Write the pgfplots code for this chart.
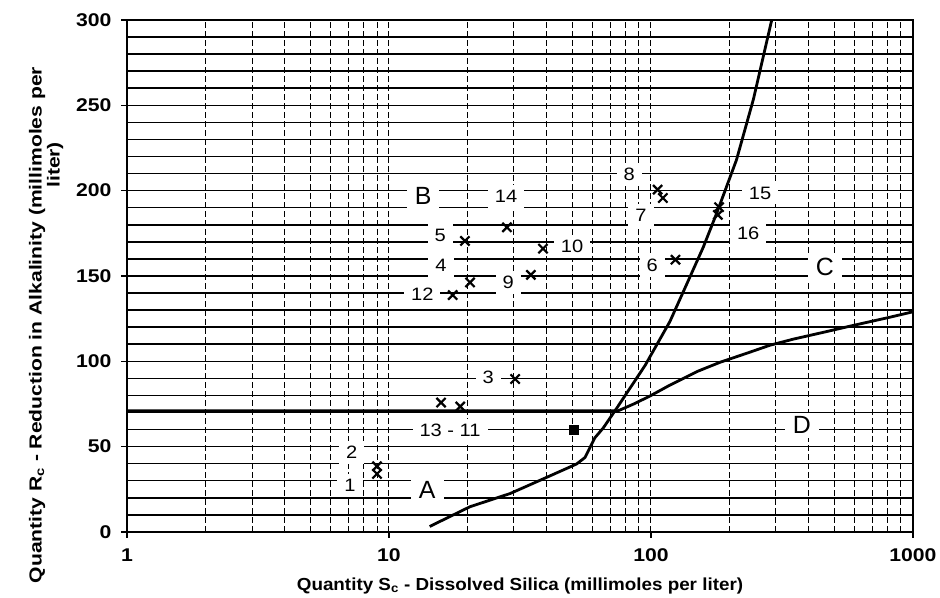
\documentclass[border=0pt]{standalone}
\usepackage{pgfplots}
\pgfplotsset{compat=1.18}
\usepackage{fontspec}
\setmainfont{Liberation Sans}
\newfontfamily\tickfont[FakeStretch=1.15]{Liberation Sans}
\newfontfamily\xlabfont[FakeStretch=1.08]{Liberation Sans}
\newfontfamily\ylabfont[FakeStretch=1.21]{Liberation Sans}
\newfontfamily\inlabfont[FakeStretch=1.12]{Liberation Sans}

\tikzset{
  labelbox/.style={fill=white, inner xsep=7bp, inner ysep=5bp, font=\inlabfont\fontsize{18}{19}\selectfont},
  letterbox/.style={fill=white, inner xsep=8bp, inner ysep=4bp, font=\fontsize{25}{27}\selectfont},
}

\pgfplotstableread{
x y
14.3 3.2
20.4 14.8
29 22.5
40 32
52 39.8
56 43.6
58.5 49.4
61.1 55.2
65.8 61
74 72.5
94.9 97.5
118.1 123.3
136.9 145.2
158.5 167
178.2 186.8
194.5 202.5
212 218
246 253.5
289 300
}\curveC

\pgfplotstableread{
x y
1 71
75 71
86 75
99 79.6
118 86
150 94
183.4 99.4
230 104.5
284.6 109.4
350 113
450 116.8
591 121
800 125.5
1000 129
}\curveD

\pgfplotstableread{
x y
9 34
9 38.5
30.3 89.6
20.4 146.2
19.5 170.5
124 159.5
111 195.7
106 200.6
34.8 150.6
38.7 166
18.7 73.5
17.5 138.8
15.8 75.8
28.2 178.5
182 190.3
180 185.8
}\points

\begin{document}
\begin{tikzpicture}
\begin{axis}[
  scale only axis,
  width=786bp, height=512bp,
  xmode=log, xmin=1, xmax=1000,
  ymin=0, ymax=300,
  xtick={1,10,100,1000}, xticklabels={1,10,100,1000},
  minor xtick={2,3,4,5,6,7,8,9,20,30,40,50,60,70,80,90,200,300,400,500,600,700,800,900},
  ytick={0,50,...,300},
  minor ytick={10,20,...,290},
  /pgf/number format/assume math mode=true,
  grid=both,
  major x grid style={black, line width=1bp, dash pattern=on 6bp off 3bp},
  minor x grid style={black, line width=1bp, dash pattern=on 6bp off 3bp},
  major y grid style={black, line width=1.5bp},
  minor y grid style={black, line width=1.5bp},
  axis line style={black, line width=1.5bp},
  tick pos=left,
  tick align=outside,
  major tick length=6bp,
  minor tick length=0bp,
  tick style={black, line width=1.2bp},
  ticklabel style={font=\tickfont\fontsize{18.5}{20}\selectfont\bfseries},
  xticklabel style={yshift=-7bp},
  yticklabel style={xshift=-6bp},
  clip=false,
]
% bounding box
\path (axis description cs:-0.1616,-0.125) rectangle (axis description cs:1.0344,1.039);

% labels
\node[letterbox] at (axis cs:14,24.8) {A};
\node[letterbox] at (axis cs:13.5,196.6) {B};
\node[letterbox] at (axis cs:461,155.1) {C};
\node[letterbox] at (axis cs:377,62.5) {D};
\node[labelbox] at (axis cs:7.1,27.3) {1};
\node[labelbox] at (axis cs:7.2,46.5) {2};
\node[labelbox] at (axis cs:17.1,59.4) {13 - 11};
\node[labelbox] at (axis cs:23.9,90.8) {3};
\node[labelbox] at (axis cs:15.7,173.9) {5};
\node[labelbox] at (axis cs:15.8,156.1) {4};
\node[labelbox] at (axis cs:13.4,139.2) {12};
\node[labelbox] at (axis cs:28,196.6) {14};
\node[labelbox] at (axis cs:28.5,146.2) {9};
\node[labelbox] at (axis cs:50,167.1) {10};
\node[labelbox] at (axis cs:82.5,209.4) {8};
\node[labelbox] at (axis cs:91.6,185.8) {7};
\node[labelbox] at (axis cs:261,198.6) {15};
\node[labelbox] at (axis cs:235,174.9) {16};
\node[labelbox] at (axis cs:101,156.1) {6};

\addplot[black, line width=2.8bp, mark=none, line join=round] table {\curveC};
\addplot[black, line width=2.8bp, mark=none, line join=round] table {\curveD};
\addplot[only marks, mark=x, mark size=6.5bp, mark options={line width=2.2bp, black}] table {\points};
\addplot[only marks, mark=square*, mark size=4.5bp, black] coordinates {(50.6,60)};

% axis titles
\node[font=\xlabfont\fontsize{17.5}{19}\selectfont\bfseries] at (axis description cs:0.5,-0.105) {Quantity S\textsubscript{c} - Dissolved Silica (millimoles per liter)};
\node[rotate=90, font=\ylabfont\fontsize{17.5}{19}\selectfont\bfseries] at (axis description cs:-0.1145,0.404) {Quantity R\textsubscript{c} - Reduction in Alkalinity (millimoles per};
\node[rotate=90, font=\ylabfont\fontsize{17.5}{19}\selectfont\bfseries] at (axis description cs:-0.0915,0.717) {liter)};
\end{axis}
\end{tikzpicture}
\end{document}
